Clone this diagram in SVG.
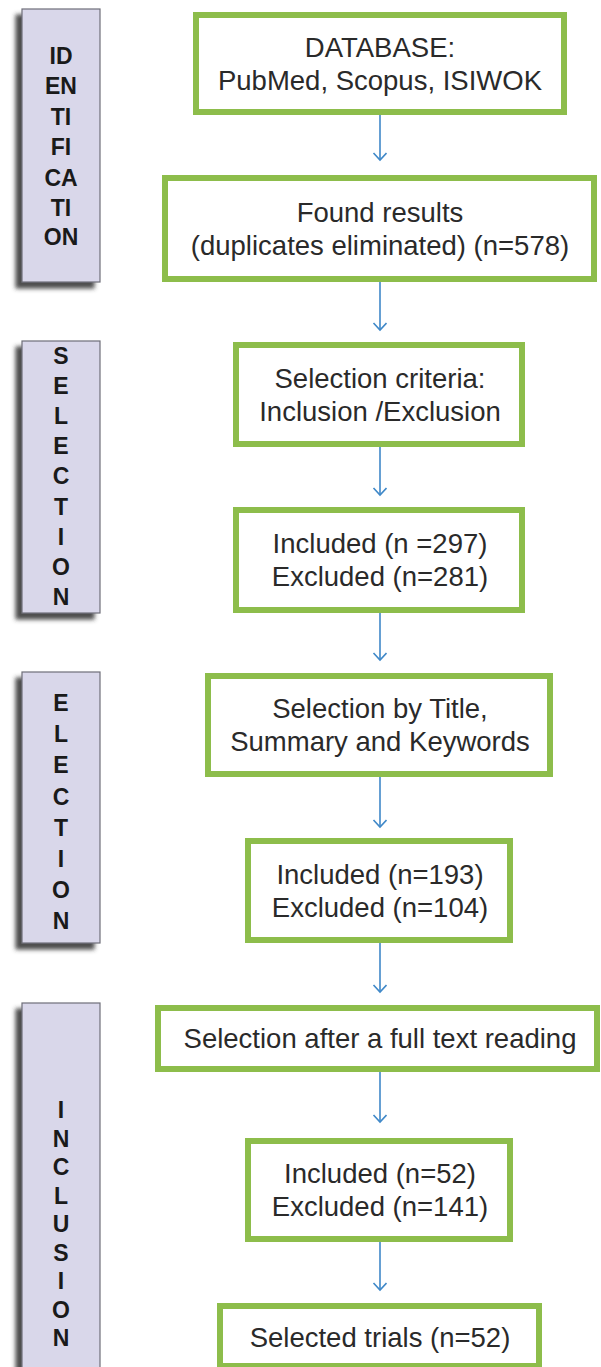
<svg xmlns="http://www.w3.org/2000/svg" width="601" height="1367" viewBox="0 0 601 1367">
<style>
.lbl{fill:#d9d7ea;stroke:#6e6e78;stroke-width:1.2}
.lt{font-family:"Liberation Sans",Arial,sans-serif;font-weight:bold;font-size:23px;fill:#1a1a1a;text-anchor:middle}
.box{fill:#ffffff;stroke:#8dbd4b;stroke-width:6}
.bt{font-family:"Liberation Sans",Arial,sans-serif;font-size:27.5px;fill:#2a2a2a;text-anchor:middle}
.con{stroke:#3f88c8;stroke-width:1.6;fill:none}
</style>
<defs>
<filter id="sh" x="-30%" y="-10%" width="160%" height="120%">
<feGaussianBlur in="SourceAlpha" stdDeviation="2.2"/>
<feOffset dx="-6" dy="6" result="b"/>
<feFlood flood-color="#3a3a3a" flood-opacity="0.9"/>
<feComposite in2="b" operator="in" result="s"/>
<feMerge><feMergeNode in="s"/><feMergeNode in="SourceGraphic"/></feMerge>
</filter>
<marker id="ah" markerWidth="12" markerHeight="16" refX="8" refY="7" orient="auto" markerUnits="userSpaceOnUse" viewBox="0 0 12 16">
<path d="M1,0.5 L8,7 L1,13.5" fill="none" stroke="#3f88c8" stroke-width="1.6"/>
</marker>
</defs>
<rect width="601" height="1367" fill="#ffffff"/>

<g id="label-identification">
<rect class="lbl" x="22" y="9" width="78" height="273" filter="url(#sh)"/>
<text class="lt" x="61" y="64">ID</text>
<text class="lt" x="61" y="94">EN</text>
<text class="lt" x="61" y="125">TI</text>
<text class="lt" x="61" y="155">FI</text>
<text class="lt" x="61" y="186">CA</text>
<text class="lt" x="61" y="216">TI</text>
<text class="lt" x="61" y="245">ON</text>
</g>

<g id="label-selection">
<rect class="lbl" x="22" y="341" width="78" height="272" filter="url(#sh)"/>
<text class="lt" x="61" y="364">S</text>
<text class="lt" x="61" y="394">E</text>
<text class="lt" x="61" y="424">L</text>
<text class="lt" x="61" y="454">E</text>
<text class="lt" x="61" y="484">C</text>
<text class="lt" x="61" y="515">T</text>
<text class="lt" x="61" y="545">I</text>
<text class="lt" x="61" y="575">O</text>
<text class="lt" x="61" y="605">N</text>
</g>

<g id="label-election">
<rect class="lbl" x="22" y="672" width="78" height="271" filter="url(#sh)"/>
<text class="lt" x="61" y="711">E</text>
<text class="lt" x="61" y="742">L</text>
<text class="lt" x="61" y="773">E</text>
<text class="lt" x="61" y="805">C</text>
<text class="lt" x="61" y="836">T</text>
<text class="lt" x="61" y="867">I</text>
<text class="lt" x="61" y="898">O</text>
<text class="lt" x="61" y="929">N</text>
</g>

<g id="label-inclusion">
<rect class="lbl" x="22" y="1003" width="78" height="380" filter="url(#sh)"/>
<text class="lt" x="61" y="1118">I</text>
<text class="lt" x="61" y="1147">N</text>
<text class="lt" x="61" y="1175">C</text>
<text class="lt" x="61" y="1204">L</text>
<text class="lt" x="61" y="1232">U</text>
<text class="lt" x="61" y="1261">S</text>
<text class="lt" x="61" y="1289">I</text>
<text class="lt" x="61" y="1318">O</text>
<text class="lt" x="61" y="1346">N</text>
</g>

<g id="connectors">
<line class="con" x1="380" y1="115" x2="380" y2="160" marker-end="url(#ah)"/>
<line class="con" x1="380" y1="282" x2="380" y2="330" marker-end="url(#ah)"/>
<line class="con" x1="380" y1="447" x2="380" y2="495" marker-end="url(#ah)"/>
<line class="con" x1="380" y1="613" x2="380" y2="660" marker-end="url(#ah)"/>
<line class="con" x1="380" y1="777" x2="380" y2="827" marker-end="url(#ah)"/>
<line class="con" x1="380" y1="943" x2="380" y2="992" marker-end="url(#ah)"/>
<line class="con" x1="380" y1="1072" x2="380" y2="1122" marker-end="url(#ah)"/>
<line class="con" x1="380" y1="1242" x2="380" y2="1290" marker-end="url(#ah)"/>
</g>

<g id="n1">
<rect class="box" x="196" y="15" width="368" height="97"/>
<text class="bt" x="380" y="57">DATABASE:</text>
<text class="bt" x="380" y="90">PubMed, Scopus, ISIWOK</text>
</g>
<g id="n2">
<rect class="box" x="165" y="178" width="429" height="101"/>
<text class="bt" x="380" y="222">Found results</text>
<text class="bt" x="380" y="255">(duplicates eliminated) (n=578)</text>
</g>
<g id="n3">
<rect class="box" x="236" y="345" width="286" height="99"/>
<text class="bt" x="380" y="388">Selection criteria:</text>
<text class="bt" x="380" y="421">Inclusion /Exclusion</text>
</g>
<g id="n4">
<rect class="box" x="236" y="510" width="286" height="100"/>
<text class="bt" x="380" y="553">Included (n =297)</text>
<text class="bt" x="380" y="586">Excluded (n=281)</text>
</g>
<g id="n5">
<rect class="box" x="208" y="676" width="342" height="98"/>
<text class="bt" x="380" y="718">Selection by Title,</text>
<text class="bt" x="380" y="751">Summary and Keywords</text>
</g>
<g id="n6">
<rect class="box" x="248" y="841" width="262" height="99"/>
<text class="bt" x="380" y="884">Included (n=193)</text>
<text class="bt" x="380" y="917">Excluded (n=104)</text>
</g>
<g id="n7">
<rect class="box" x="158" y="1008" width="439" height="61"/>
<text class="bt" x="380" y="1048">Selection after a full text reading</text>
</g>
<g id="n8">
<rect class="box" x="248" y="1141" width="262" height="98"/>
<text class="bt" x="380" y="1183">Included (n=52)</text>
<text class="bt" x="380" y="1216">Excluded (n=141)</text>
</g>
<g id="n9">
<rect class="box" x="220" y="1306" width="319" height="60"/>
<text class="bt" x="380" y="1347">Selected trials (n=52)</text>
</g>
</svg>
